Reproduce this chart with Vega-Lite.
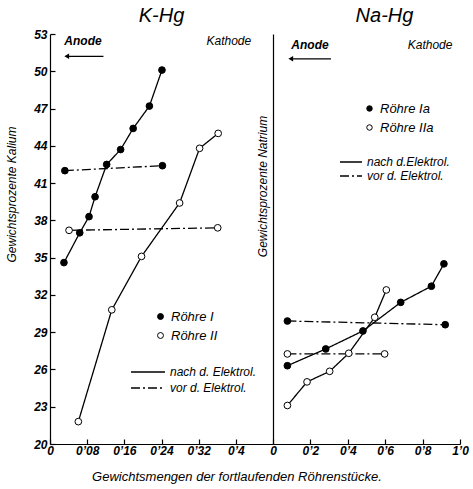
{
  "$schema": "https://vega.github.io/schema/vega-lite/v6.json",
  "background": "white",
  "padding": {"left": 5, "top": 6, "right": 5, "bottom": 5},
  "bounds": "flush",
  "spacing": 0,
  "config": {
    "view": {"stroke": null},
    "font": "Liberation Sans",
    "axis": {"domainColor": "black", "tickColor": "black", "labelColor": "black", "titleColor": "black", "grid": false, "domainWidth": 1.2, "tickWidth": 1.2, "labelOverlap": false, "labelFlush": false, "tickCount": 30}
  },
  "title": {"text": "Gewichtsmengen der fortlaufenden Röhrenstücke.", "orient": "bottom", "anchor": "middle", "fontStyle": "italic", "fontWeight": "normal", "fontSize": 13, "offset": 15, "color": "black"},
  "datasets": {
    "k": [
      {"tube": "Röhre I", "kind": "nach d. Elektrol.", "x": 0.030, "y": 34.6},
      {"tube": "Röhre I", "kind": "nach d. Elektrol.", "x": 0.064, "y": 37.0},
      {"tube": "Röhre I", "kind": "nach d. Elektrol.", "x": 0.084, "y": 38.3},
      {"tube": "Röhre I", "kind": "nach d. Elektrol.", "x": 0.097, "y": 39.9},
      {"tube": "Röhre I", "kind": "nach d. Elektrol.", "x": 0.122, "y": 42.5},
      {"tube": "Röhre I", "kind": "nach d. Elektrol.", "x": 0.152, "y": 43.7},
      {"tube": "Röhre I", "kind": "nach d. Elektrol.", "x": 0.179, "y": 45.4},
      {"tube": "Röhre I", "kind": "nach d. Elektrol.", "x": 0.214, "y": 47.2},
      {"tube": "Röhre I", "kind": "nach d. Elektrol.", "x": 0.241, "y": 50.1},
      {"tube": "Röhre I", "kind": "vor d. Elektrol.", "x": 0.032, "y": 42.0},
      {"tube": "Röhre I", "kind": "vor d. Elektrol.", "x": 0.242, "y": 42.4},
      {"tube": "Röhre II", "kind": "nach d. Elektrol.", "x": 0.061, "y": 21.8},
      {"tube": "Röhre II", "kind": "nach d. Elektrol.", "x": 0.133, "y": 30.8},
      {"tube": "Röhre II", "kind": "nach d. Elektrol.", "x": 0.197, "y": 35.1},
      {"tube": "Röhre II", "kind": "nach d. Elektrol.", "x": 0.279, "y": 39.4},
      {"tube": "Röhre II", "kind": "nach d. Elektrol.", "x": 0.322, "y": 43.8},
      {"tube": "Röhre II", "kind": "nach d. Elektrol.", "x": 0.362, "y": 45.0},
      {"tube": "Röhre II", "kind": "vor d. Elektrol.", "x": 0.041, "y": 37.2},
      {"tube": "Röhre II", "kind": "vor d. Elektrol.", "x": 0.361, "y": 37.4}
    ],
    "na": [
      {"tube": "Röhre Ia", "kind": "nach d.Elektrol.", "x": 0.077, "y": 26.3},
      {"tube": "Röhre Ia", "kind": "nach d.Elektrol.", "x": 0.282, "y": 27.65},
      {"tube": "Röhre Ia", "kind": "nach d.Elektrol.", "x": 0.481, "y": 29.1},
      {"tube": "Röhre Ia", "kind": "nach d.Elektrol.", "x": 0.683, "y": 31.4},
      {"tube": "Röhre Ia", "kind": "nach d.Elektrol.", "x": 0.847, "y": 32.7},
      {"tube": "Röhre Ia", "kind": "nach d.Elektrol.", "x": 0.914, "y": 34.5},
      {"tube": "Röhre Ia", "kind": "vor d. Elektrol.", "x": 0.077, "y": 29.9},
      {"tube": "Röhre Ia", "kind": "vor d. Elektrol.", "x": 0.921, "y": 29.6},
      {"tube": "Röhre IIa", "kind": "nach d.Elektrol.", "x": 0.077, "y": 23.1},
      {"tube": "Röhre IIa", "kind": "nach d.Elektrol.", "x": 0.182, "y": 25.0},
      {"tube": "Röhre IIa", "kind": "nach d.Elektrol.", "x": 0.303, "y": 25.85},
      {"tube": "Röhre IIa", "kind": "nach d.Elektrol.", "x": 0.405, "y": 27.3},
      {"tube": "Röhre IIa", "kind": "nach d.Elektrol.", "x": 0.544, "y": 30.2},
      {"tube": "Röhre IIa", "kind": "nach d.Elektrol.", "x": 0.606, "y": 32.4},
      {"tube": "Röhre IIa", "kind": "vor d. Elektrol.", "x": 0.077, "y": 27.25},
      {"tube": "Röhre IIa", "kind": "vor d. Elektrol.", "x": 0.597, "y": 27.25}
    ]
  },
  "resolve": {"scale": {"x": "independent", "y": "independent", "fill": "independent", "strokeDash": "independent"}, "legend": {"fill": "independent", "strokeDash": "independent"}},
  "hconcat": [
    {
      "width": 223,
      "height": 410,
      "title": {"text": "K-Hg", "fontSize": 20, "fontStyle": "italic", "fontWeight": "normal", "offset": 2, "color": "black"},
      "layer": [
        {
          "data": {"name": "k"},
          "mark": {"type": "line", "stroke": "black", "strokeWidth": 1.3},
          "encoding": {
            "x": {"field": "x", "type": "quantitative", "scale": {"domain": [0, 0.48], "nice": false},
              "axis": {"values": [0, 0.08, 0.16, 0.24, 0.32, 0.4], "tickCount": 30, "labelOverlap": false, "labelFlush": false, "title": null, "tickSize": -5, "labelPadding": 6, "labelFontSize": 12, "labelFontStyle": "italic", "labelFontWeight": "bold",
                "labelExpr": "datum.value == 0 ? '0' : replace(format(datum.value, ''), '.', '\u2019')"}},
            "y": {"field": "y", "type": "quantitative", "scale": {"domain": [20, 53], "nice": false, "zero": false},
              "axis": {"values": [20, 23, 26, 29, 32, 35, 38, 41, 44, 47, 50, 53], "tickCount": 30, "labelOverlap": false, "labelFlush": false, "title": "Gewichtsprozente Kalium", "titleFontSize": 12, "titleFontStyle": "italic", "titleFontWeight": "normal", "titleY": 160, "titlePadding": 15, "tickSize": -5, "labelPadding": 8, "labelFontSize": 12, "labelFontStyle": "italic", "labelFontWeight": "bold"}},
            "strokeDash": {"field": "kind", "type": "nominal", "scale": {"domain": ["nach d. Elektrol.", "vor d. Elektrol."], "range": [[1, 0], [9, 3, 2, 3]]},
              "legend": {"title": null, "orient": "none", "legendX": 80, "legendY": 330, "symbolType": "stroke", "symbolSize": 1156, "symbolStrokeColor": "black", "symbolStrokeWidth": 1.3, "labelFontSize": 12, "labelFontStyle": "italic", "clipHeight": 16, "rowPadding": 0, "padding": 0}},
            "detail": {"field": "tube"},
            "order": {"field": "x"}
          }
        },
        {
          "data": {"name": "k"},
          "mark": {"type": "point", "filled": true, "shape": "circle", "size": 45, "stroke": "black", "strokeWidth": 1, "opacity": 1},
          "encoding": {
            "x": {"field": "x", "type": "quantitative"},
            "y": {"field": "y", "type": "quantitative"},
            "fill": {"field": "tube", "type": "nominal", "scale": {"domain": ["Röhre I", "Röhre II"], "range": ["black", "white"]},
              "legend": {"title": null, "orient": "none", "legendX": 104, "legendY": 276, "symbolType": "circle", "symbolSize": 35, "symbolStrokeColor": "black", "symbolStrokeWidth": 1, "labelFontSize": 13, "labelFontStyle": "italic", "rowPadding": 5, "padding": 0}}
          }
        },
        {
          "data": {"values": [{}]},
          "mark": {"type": "text", "fontSize": 12, "fontStyle": "italic", "fontWeight": "bold", "color": "black"},
          "encoding": {"x": {"datum": 0.071}, "y": {"datum": 52.4}, "text": {"value": "Anode"}}
        },
        {
          "data": {"values": [{}]},
          "mark": {"type": "text", "fontSize": 12, "fontStyle": "italic", "color": "black"},
          "encoding": {"x": {"datum": 0.385}, "y": {"datum": 52.4}, "text": {"value": "Kathode"}}
        },
        {
          "data": {"values": [{}]},
          "mark": {"type": "rule", "color": "black", "strokeWidth": 1.2},
          "encoding": {"x": {"datum": 0.038}, "x2": {"datum": 0.115}, "y": {"datum": 51.2}}
        },
        {
          "data": {"values": [{}]},
          "mark": {"type": "point", "shape": "triangle-left", "filled": true, "color": "black", "size": 30, "opacity": 1},
          "encoding": {"x": {"datum": 0.036}, "y": {"datum": 51.2}}
        }
      ]
    },
    {
      "width": 187,
      "height": 410,
      "title": {"text": "Na-Hg", "fontSize": 20, "fontStyle": "italic", "fontWeight": "normal", "offset": 8, "color": "black", "dx": 18},
      "layer": [
        {
          "data": {"name": "na"},
          "mark": {"type": "line", "stroke": "black", "strokeWidth": 1.3},
          "encoding": {
            "x": {"field": "x", "type": "quantitative", "scale": {"domain": [0, 1.0], "nice": false},
              "axis": {"values": [0, 0.2, 0.4, 0.6, 0.8, 1.0], "tickCount": 30, "labelOverlap": false, "labelFlush": false, "title": null, "tickSize": -5, "labelPadding": 6, "labelFontSize": 12, "labelFontStyle": "italic", "labelFontWeight": "bold",
                "labelExpr": "datum.value == 0 ? '0' : replace(format(datum.value, '.1f'), '.', '\u2019')"}},
            "y": {"field": "y", "type": "quantitative", "scale": {"domain": [20, 53], "nice": false, "zero": false},
              "axis": {"orient": "left", "labels": false, "ticks": false, "title": "Gewichtsprozente Natrium", "titleFontSize": 12, "titleFontStyle": "italic", "titleFontWeight": "normal", "titleY": 152, "titlePadding": 4}},
            "strokeDash": {"field": "kind", "type": "nominal", "scale": {"domain": ["nach d.Elektrol.", "vor d. Elektrol."], "range": [[1, 0], [9, 3, 2, 3]]},
              "legend": {"title": null, "orient": "none", "legendX": 66, "legendY": 121, "symbolType": "stroke", "symbolSize": 484, "symbolStrokeColor": "black", "symbolStrokeWidth": 1.3, "labelFontSize": 12, "labelFontStyle": "italic", "clipHeight": 14, "rowPadding": 0, "padding": 0}},
            "detail": {"field": "tube"},
            "order": {"field": "x"}
          }
        },
        {
          "data": {"name": "na"},
          "mark": {"type": "point", "filled": true, "shape": "circle", "size": 45, "stroke": "black", "strokeWidth": 1, "opacity": 1},
          "encoding": {
            "x": {"field": "x", "type": "quantitative"},
            "y": {"field": "y", "type": "quantitative"},
            "fill": {"field": "tube", "type": "nominal", "scale": {"domain": ["Röhre Ia", "Röhre IIa"], "range": ["black", "white"]},
              "legend": {"title": null, "orient": "none", "legendX": 90, "legendY": 68, "symbolType": "circle", "symbolSize": 30, "symbolStrokeColor": "black", "symbolStrokeWidth": 1, "labelFontSize": 13, "labelFontStyle": "italic", "rowPadding": 5, "padding": 0}}
          }
        },
        {
          "data": {"values": [{}]},
          "mark": {"type": "text", "fontSize": 12, "fontStyle": "italic", "fontWeight": "bold", "color": "black"},
          "encoding": {"x": {"datum": 0.198}, "y": {"datum": 52.1}, "text": {"value": "Anode"}}
        },
        {
          "data": {"values": [{}]},
          "mark": {"type": "text", "fontSize": 12, "fontStyle": "italic", "color": "black"},
          "encoding": {"x": {"datum": 0.84}, "y": {"datum": 52.1}, "text": {"value": "Kathode"}}
        },
        {
          "data": {"values": [{}]},
          "mark": {"type": "rule", "color": "black", "strokeWidth": 1.2},
          "encoding": {"x": {"datum": 0.1}, "x2": {"datum": 0.31}, "y": {"datum": 51.0}}
        },
        {
          "data": {"values": [{}]},
          "mark": {"type": "point", "shape": "triangle-left", "filled": true, "color": "black", "size": 30, "opacity": 1},
          "encoding": {"x": {"datum": 0.095}, "y": {"datum": 51.0}}
        }
      ]
    }
  ]
}
